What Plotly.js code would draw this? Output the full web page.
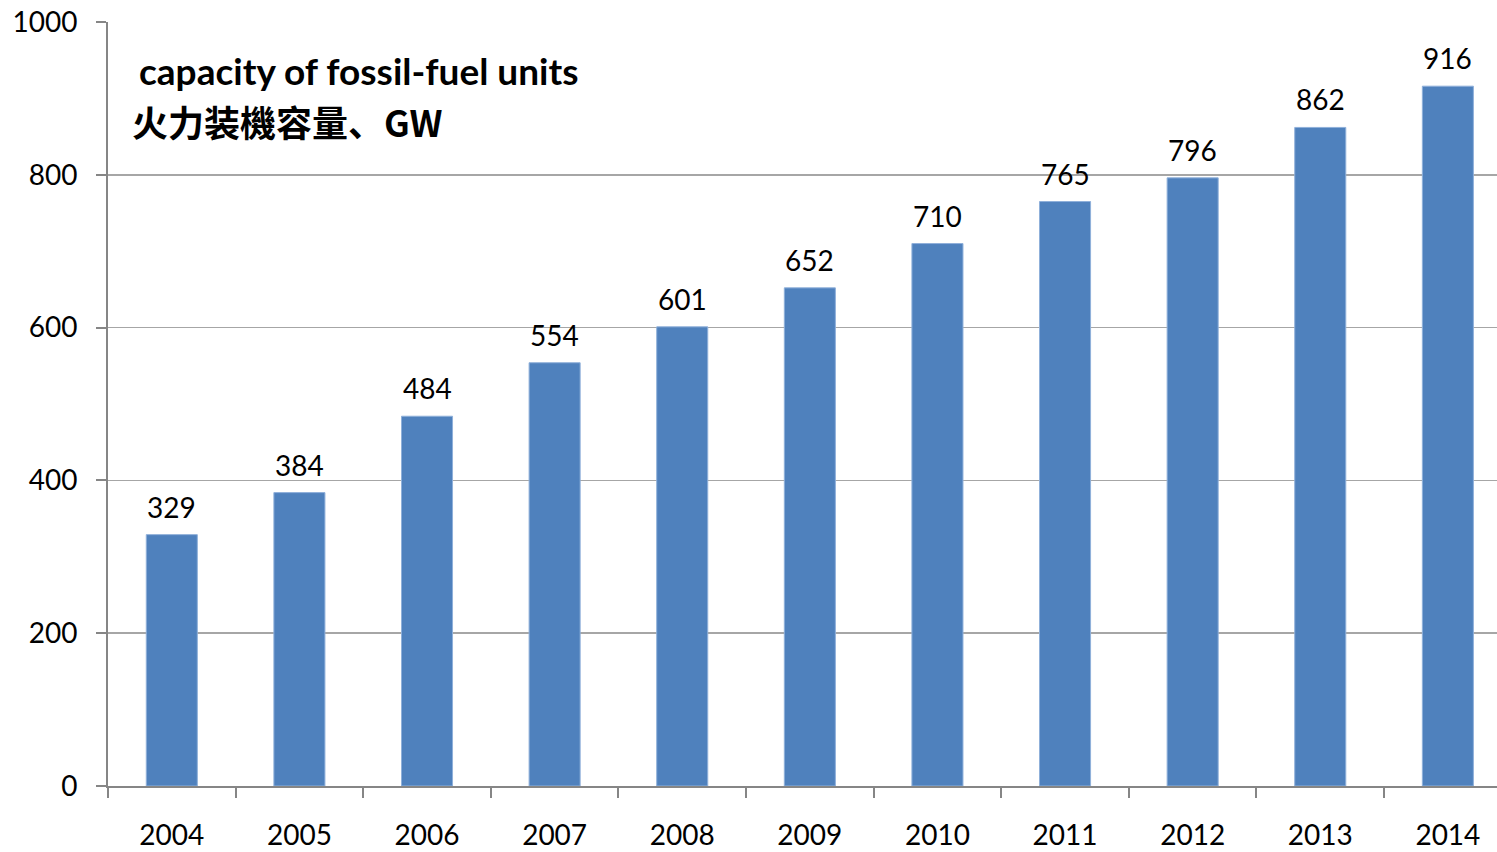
<!DOCTYPE html>
<html>
<head>
<meta charset="utf-8">
<script src="https://cdn.plot.ly/plotly-3.0.1.min.js"></script>
<style>
  html, body { margin: 0; padding: 0; background: #ffffff; }
  #chart { width: 1497px; height: 852px; }
</style>
</head>
<body>
<div id="chart"></div>
<script>
// Fossil-fuel generating capacity by year, GW
const years = ['2004', '2005', '2006', '2007', '2008', '2009', '2010', '2011', '2012', '2013', '2014'];
const capacityGW = [329, 384, 484, 554, 601, 652, 710, 765, 796, 862, 916];
const yTicks = [0, 200, 400, 600, 800, 1000];

const baseFont = 'Lato, "Noto Sans", "Noto Sans CJK SC", sans-serif';

const trace = {
  type: 'bar',
  x: years,
  y: capacityGW,
  marker: { color: '#4F81BD', line: { color: '#8FB0DA', width: 1 } },
  hoverinfo: 'x+y'
};

// value labels sitting just above each bar (x given as category index)
const valueLabels = years.map((yr, i) => ({
  xref: 'x', yref: 'y',
  x: i, y: capacityGW[i],
  xanchor: 'center', yanchor: 'bottom',
  yshift: 9,
  text: String(capacityGW[i]),
  showarrow: false,
  font: { family: baseFont, size: 28, color: '#000000' }
}));

const titleLines = [
  {
    xref: 'paper', yref: 'paper',
    x: 0.021, y: 0.937,
    xanchor: 'left', yanchor: 'middle',
    text: '<b>capacity of fossil-fuel units</b>',
    showarrow: false,
    font: { family: baseFont, size: 37, color: '#000000' }
  },
  {
    xref: 'paper', yref: 'paper',
    x: 0.016, y: 0.871,
    xanchor: 'left', yanchor: 'middle',
    text: '<b>火力装機容量、GW</b>',
    showarrow: false,
    font: { family: '"Noto Sans CJK SC", Lato, sans-serif', size: 36, color: '#000000' }
  }
];

const layout = {
  width: 1497,
  height: 852,
  margin: { l: 108, r: 0, t: 22, b: 66 },
  paper_bgcolor: '#ffffff',
  plot_bgcolor: '#ffffff',
  showlegend: false,
  bargap: 0.6,
  font: { family: baseFont, size: 28, color: '#000000' },
  xaxis: {
    type: 'category',
    range: [-0.5, 10.385],
    showgrid: false,
    showline: true,
    linecolor: '#868686',
    linewidth: 2,
    ticks: 'outside',
    tickson: 'boundaries',
    ticklen: 10,
    tickcolor: '#868686',
    tickwidth: 2,
    ticklabelstandoff: 23,
    tickfont: { family: baseFont, size: 28, color: '#000000' },
    fixedrange: true
  },
  yaxis: {
    range: [0, 1000],
    tickvals: yTicks,
    ticktext: yTicks.map(String),
    showgrid: true,
    gridcolor: '#A6A6A6',
    gridwidth: 1.5,
    zeroline: false,
    showline: true,
    linecolor: '#868686',
    linewidth: 2,
    ticks: 'outside',
    ticklen: 10,
    tickcolor: '#868686',
    tickwidth: 2,
    ticklabelstandoff: 13,
    tickfont: { family: baseFont, size: 28, color: '#000000' },
    fixedrange: true
  },
  annotations: titleLines.concat(valueLabels)
};

Plotly.newPlot('chart', [trace], layout, { displayModeBar: false, staticPlot: true });
</script>
</body>
</html>
